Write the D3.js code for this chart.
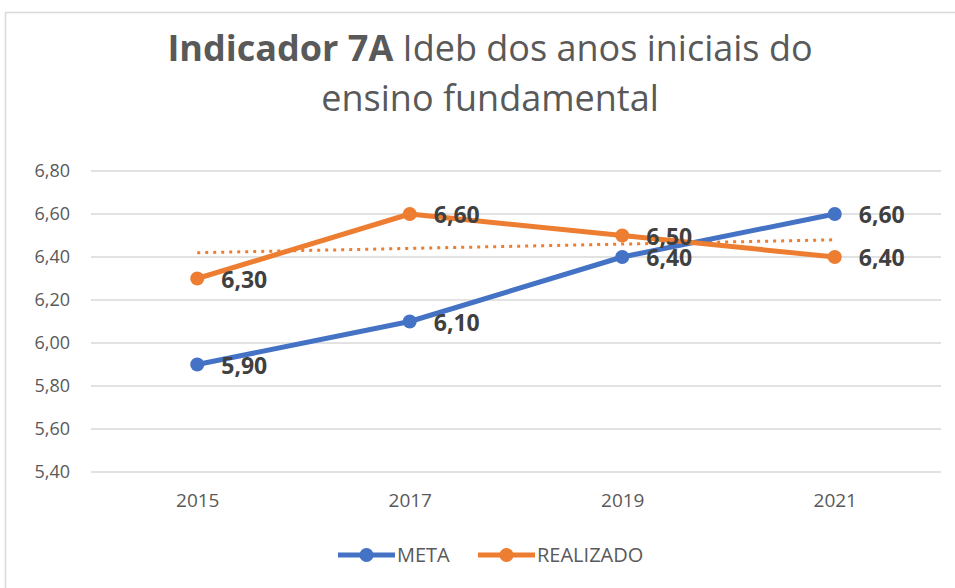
<!DOCTYPE html>
<html>
<head>
<meta charset="utf-8">
<script src="https://cdn.jsdelivr.net/npm/d3@7"></script>
<style>
  body { margin: 0; background: #fff; }
  text { font-family: "Liberation Sans Narrow", "Open Sans", sans-serif; }
</style>
</head>
<body>
<div class="chart"></div>
<script>
var svgWidth = 955;
var svgHeight = 588;

var margin = { top: 171, right: 14, bottom: 116, left: 91 };
var width = svgWidth - margin.left - margin.right;
var height = svgHeight - margin.top - margin.bottom;

// chart data
var years = ["2015", "2017", "2019", "2021"];
var meta = [5.9, 6.1, 6.4, 6.6];
var realizado = [6.3, 6.6, 6.5, 6.4];
// linear trend of REALIZADO, read at first and last year
var trendYears = ["2015", "2021"];
var trendValues = [6.42, 6.48];
var yTicks = [5.4, 5.6, 5.8, 6.0, 6.2, 6.4, 6.6, 6.8];

var blue = "#4472C4";
var orange = "#ED7D31";
var fmt = d => d.toFixed(2).replace(".", ",");

var svg = d3.select(".chart")
  .append("svg")
  .attr("width", svgWidth)
  .attr("height", svgHeight);

// chart border
svg.append("path")
  .attr("d", "M5.5,588 V12.5 H955")
  .attr("fill", "none")
  .attr("stroke", "#d9d9d9")
  .attr("stroke-width", 1.5);

// title
var title = svg.append("text")
  .attr("x", 490)
  .attr("y", 61)
  .attr("text-anchor", "middle")
  .attr("font-size", 36)
  .attr("fill", "#595959");
title.append("tspan").attr("font-weight", "bold").text("Indicador 7A");
title.append("tspan").text(" Ideb dos anos iniciais do");
svg.append("text")
  .attr("x", 490)
  .attr("y", 111)
  .attr("text-anchor", "middle")
  .attr("font-size", 36)
  .attr("fill", "#595959")
  .text("ensino fundamental");

var chartGroup = svg.append("g")
  .attr("transform", `translate(${margin.left}, ${margin.top})`);

var xScale = d3.scalePoint()
  .domain(years)
  .range([0, width])
  .padding(0.5);

var yScale = d3.scaleLinear()
  .domain([5.4, 6.8])
  .range([height, 0]);

// gridlines
chartGroup.append("g")
  .selectAll("line")
  .data(yTicks)
  .enter()
  .append("line")
  .attr("x1", 0)
  .attr("x2", width)
  .attr("y1", d => yScale(d))
  .attr("y2", d => yScale(d))
  .attr("stroke", "#d9d9d9")
  .attr("stroke-width", 1.5);

// y axis
var leftAxis = d3.axisLeft(yScale)
  .tickValues(yTicks)
  .tickFormat(fmt)
  .tickSize(0)
  .tickPadding(21);
var yAxis = chartGroup.append("g").call(leftAxis);
yAxis.select(".domain").remove();
yAxis.selectAll("text")
  .attr("font-size", 18)
  .attr("fill", "#595959");

// x axis
var bottomAxis = d3.axisBottom(xScale).tickSize(0).tickPadding(22);
var xAxis = chartGroup.append("g")
  .attr("transform", `translate(0, ${height})`)
  .call(bottomAxis);
xAxis.select(".domain").remove();
xAxis.selectAll("text")
  .attr("font-size", 19)
  .attr("fill", "#595959");

var line = d3.line()
  .x((d, i) => xScale(years[i]))
  .y(d => yScale(d));

// trend line
chartGroup.append("path")
  .datum(trendValues)
  .attr("d", d3.line().x((d, i) => xScale(trendYears[i])).y(d => yScale(d)))
  .attr("fill", "none")
  .attr("stroke", orange)
  .attr("stroke-width", 3)
  .attr("stroke-dasharray", "3,5");

var series = [
  { name: "META", values: meta, color: blue },
  { name: "REALIZADO", values: realizado, color: orange }
];

series.forEach(function(s) {
  chartGroup.append("path")
    .datum(s.values)
    .attr("d", line)
    .attr("fill", "none")
    .attr("stroke", s.color)
    .attr("stroke-width", 5)
    .attr("stroke-linejoin", "round");

  chartGroup.selectAll(null)
    .data(s.values)
    .enter()
    .append("circle")
    .attr("cx", (d, i) => xScale(years[i]))
    .attr("cy", d => yScale(d))
    .attr("r", 7)
    .attr("fill", s.color);
});

// data labels
series.forEach(function(s) {
  chartGroup.selectAll(null)
    .data(s.values)
    .enter()
    .append("text")
    .attr("x", (d, i) => xScale(years[i]) + 24)
    .attr("y", d => yScale(d))
    .attr("dy", "0.4em")
    .attr("font-size", 23)
    .attr("font-weight", "bold")
    .attr("fill", "#404040")
    .text(fmt);
});

// legend
var legend = svg.append("g").attr("transform", "translate(0, 555)");
var legendItems = [
  { name: "META", color: blue, x: 338, tx: 397 },
  { name: "REALIZADO", color: orange, x: 478, tx: 537 }
];
legendItems.forEach(function(it) {
  legend.append("line")
    .attr("x1", it.x).attr("x2", it.x + 57)
    .attr("y1", 0).attr("y2", 0)
    .attr("stroke", it.color)
    .attr("stroke-width", 5);
  legend.append("circle")
    .attr("cx", it.x + 28.5).attr("cy", 0).attr("r", 7)
    .attr("fill", it.color);
  legend.append("text")
    .attr("x", it.tx).attr("y", 0)
    .attr("dy", "0.35em")
    .attr("font-size", 20)
    .attr("fill", "#595959")
    .text(it.name);
});
</script>
</body>
</html>
